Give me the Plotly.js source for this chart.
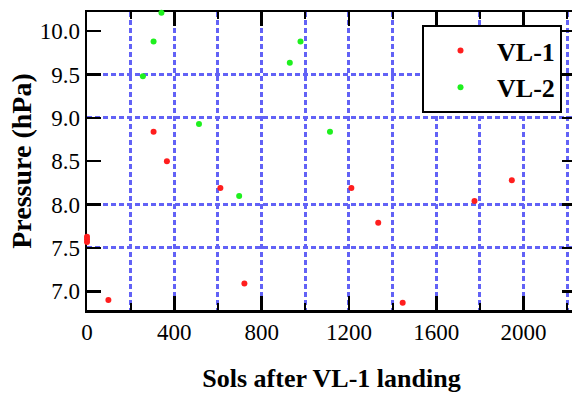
<!DOCTYPE html>
<html>
<head>
<meta charset="utf-8">
<script src="https://cdn.plot.ly/plotly-3.0.1.min.js"></script>
<style>
html,body{margin:0;padding:0;overflow:hidden;background:#fff;}
#chart{width:576px;height:396px;}
</style>
</head>
<body>
<div id="chart"></div>
<script>
// ---- data ----
const vl1Sols = [0, 0, 0, 98, 109, 305, 366, 611, 721, 1211, 1334, 1446, 1446, 1775, 1946];
const vl1Pressure = [7.57, 7.60, 7.63, 6.90, 6.78, 8.84, 8.50, 8.19, 7.09, 8.19, 7.79, 6.87, 6.78, 8.04, 8.28];
const vl2Sols = [256, 305, 341, 513, 697, 929, 978, 1113];
const vl2Pressure = [9.48, 9.88, 10.21, 8.93, 8.10, 9.635, 9.88, 8.84];
const seriesNames = ['VL-1', 'VL-2'];
const pressureGridVals = [7.5, 8.0, 9.0, 9.5];
const xTitle = 'Sols after VL-1 landing';
const yTitle = 'Pressure (hPa)';

const serif = 'Liberation Serif';
const gridColor = '#6262f6';
const gridDash = '5px,3px';

const traces = [
  {x: vl1Sols, y: vl1Pressure, name: seriesNames[0], type: 'scatter', mode: 'markers',
   cliponaxis: false, marker: {color: '#ff1e1e', size: 6}},
  {x: vl2Sols, y: vl2Pressure, name: seriesNames[1], type: 'scatter', mode: 'markers',
   cliponaxis: false, marker: {color: '#1ef01e', size: 6}},
  // empty helper trace so the grid-only overlay axis is drawn
  {x: [], y: [], yaxis: 'y2', type: 'scatter', mode: 'markers', showlegend: false, hoverinfo: 'skip'}
];

const yRange = [6.785, 10.22];

const layout = {
  width: 576, height: 396,
  margin: {l: 87, r: 0, t: 12, b: 86},
  paper_bgcolor: '#fff', plot_bgcolor: '#fff',
  font: {family: serif, color: '#000'},
  showlegend: true,
  legend: {
    x: 0.9714, xanchor: 'right', y: 0.956, yanchor: 'top',
    bgcolor: '#fff', bordercolor: '#000', borderwidth: 2,
    font: {family: serif, size: 26, weight: 'bold', color: '#000'},
    itemwidth: 63
  },
  xaxis: {
    range: [0, 2240], tickmode: 'linear', tick0: 0, dtick: 400,
    ticks: 'inside', ticklen: 14, tickwidth: 2.5, tickcolor: '#000',
    showline: true, linewidth: 2.5, linecolor: '#000', mirror: 'ticks',
    showgrid: true, gridcolor: gridColor, gridwidth: 3, griddash: gridDash,
    zeroline: false, layer: 'below traces',
    tickfont: {family: serif, size: 23},
    minor: {tickmode: 'linear', tick0: 0, dtick: 200, ticks: 'inside', ticklen: 7, tickwidth: 2,
            tickcolor: '#000', showgrid: true, gridcolor: gridColor, gridwidth: 3, griddash: gridDash},
    title: {text: xTitle, font: {family: serif, size: 26, weight: 'bold'}, standoff: 25}
  },
  yaxis: {
    range: yRange, tickmode: 'linear', tick0: 7, dtick: 0.5, tickformat: '.1f',
    ticks: 'inside', ticklen: 14, tickwidth: 2.5, tickcolor: '#000',
    showline: true, linewidth: 2.5, linecolor: '#000', mirror: 'ticks',
    showgrid: false, zeroline: false, layer: 'below traces',
    tickfont: {family: serif, size: 23},
    title: {text: yTitle, font: {family: serif, size: 28, weight: 'bold'}, standoff: 0}
  },
  yaxis2: {
    overlaying: 'y', anchor: 'x', side: 'left', range: yRange,
    tickmode: 'array', tickvals: pressureGridVals, showticklabels: false, ticks: '',
    showgrid: true, gridcolor: gridColor, gridwidth: 3, griddash: gridDash,
    showline: false, zeroline: false
  }
};

Plotly.newPlot('chart', traces, layout, {displayModeBar: false, staticPlot: true});
</script>
</body>
</html>
